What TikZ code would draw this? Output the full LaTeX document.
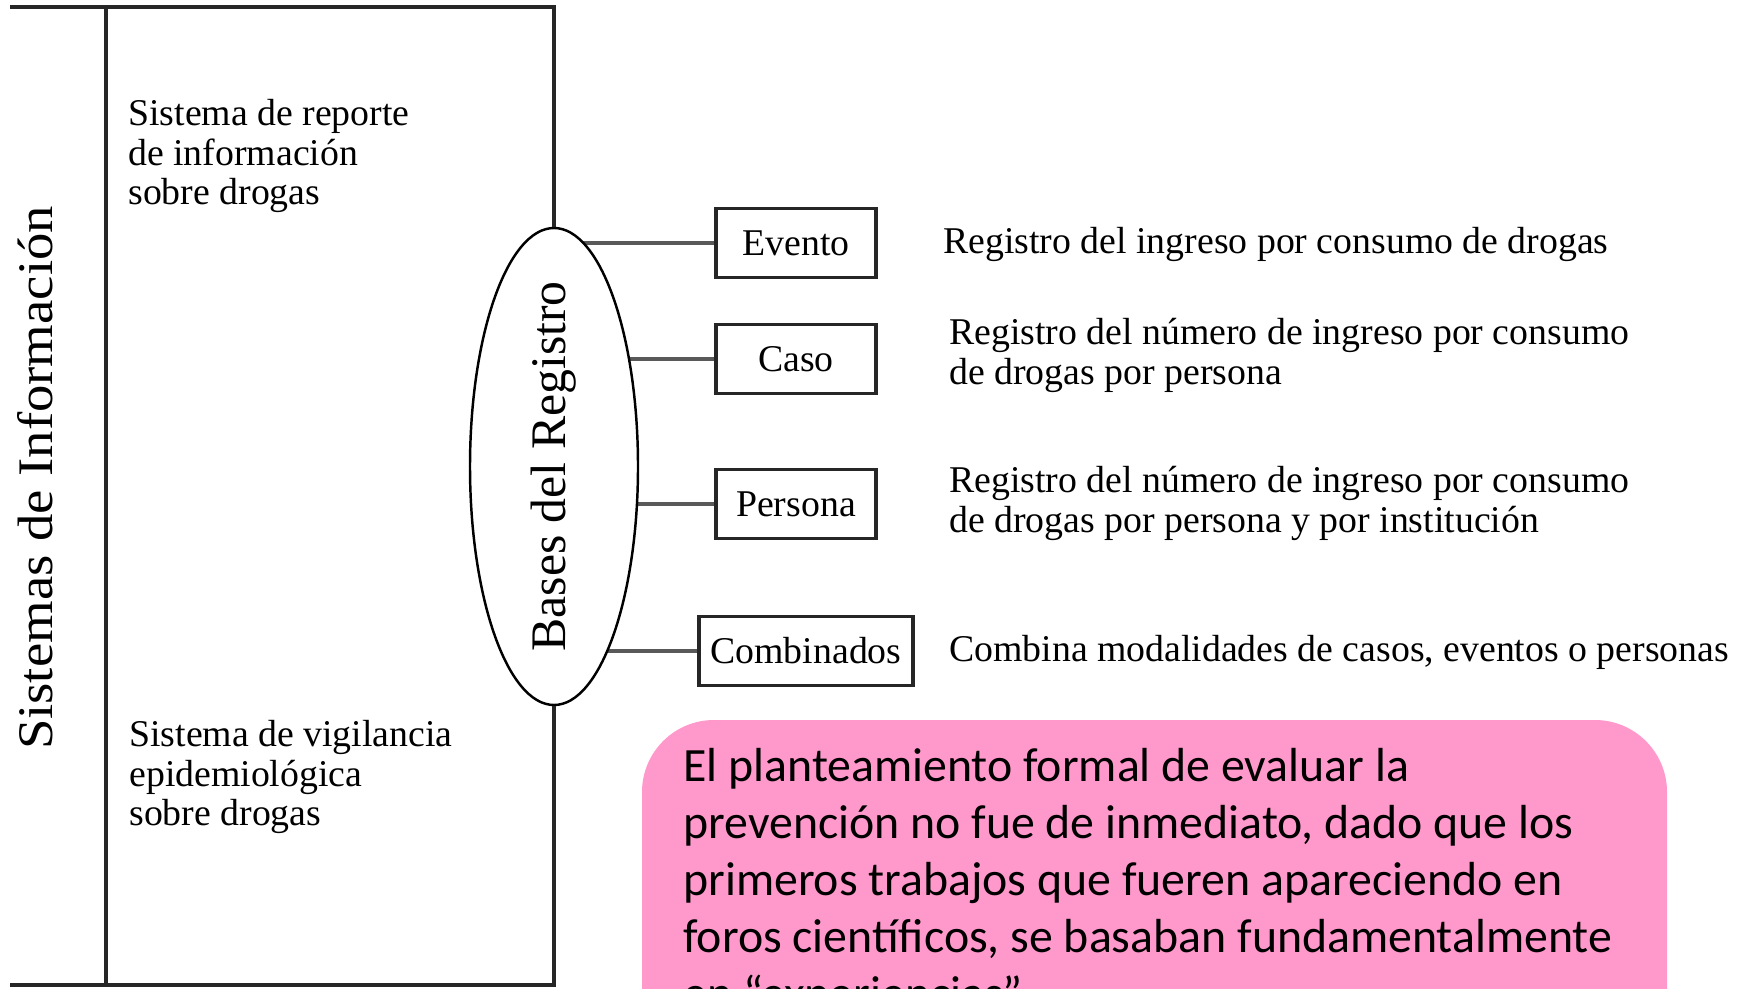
\documentclass[tikz,border=0pt]{standalone}
\usepackage{fontspec}
\setmainfont{Liberation Serif}
\newfontfamily\notafont{Carlito}
\usetikzlibrary{shapes.geometric,backgrounds}
\definecolor{notapink}{HTML}{FF99CC}

\begin{document}
\begin{tikzpicture}[
	frame/.style={black!85, line width=1.8pt},
	regbox/.style={draw=black!85, line width=1.8pt, minimum height=1.37cm, inner sep=0pt, font=\fontsize{21.5}{22.7}\selectfont},
	link/.style={black!65, line width=2pt},
	desc/.style={anchor=west, align=left, inner sep=0pt, font=\fontsize{21.5}{22.7}\selectfont}
]
	\useasboundingbox (0,0) rectangle (34.98,19.76);
	\clip (0,0) rectangle (34.98,19.76);

	% systems
	\node[rotate=90, inner sep=0pt, font=\fontsize{28.3}{30}\selectfont] (sistemas) at (0.70,10.2) {\scalebox{1.1}[1]{Sistemas de Información}};
	\node[ellipse, draw, line width=1.4pt, fill=white, rotate=90, minimum width=9.54cm, minimum height=3.36cm, inner sep=0pt, font=\fontsize{28.3}{30}\selectfont] (bases) at (11.08,10.43) {\makebox[0pt]{Bases del Registro}};
	\draw[frame] (0.2,19.62) -- (11.08,19.62) -- (bases.east);
	\draw[frame] (bases.west) -- (11.08,0.06) -- (0.2,0.06);
	\draw[frame] (2.12,19.62) -- (2.12,0.06);
	\node[desc] (reporte) at (2.56,16.64) {Sistema de reporte\\de información\\sobre drogas};
	\node[desc] (vigilancia) at (2.58,4.22) {Sistema de vigilancia\\epidemiológica\\sobre drogas};

	% registers
	\node[regbox, minimum width=3.2cm] (evento) at (15.92,14.90) {Evento};
	\node[regbox, minimum width=3.2cm] (caso) at (15.92,12.58) {Caso};
	\node[regbox, minimum width=3.2cm] (persona) at (15.92,9.68) {Persona};
	\node[regbox, minimum width=4.28cm] (combinados) at (16.12,6.74) {Combinados};
	\begin{scope}[on background layer]
		\draw[link] (evento.west) -- (evento.west -| bases.center);
		\draw[link] (caso.west) -- (caso.west -| bases.center);
		\draw[link] (persona.west) -- (persona.west -| bases.center);
		\draw[link] (combinados.west) -- (combinados.west -| bases.center);
	\end{scope}
	\node[desc] (devento) at (18.86,14.88) {Registro del ingreso por consumo de drogas};
	\node[desc] (dcaso) at (18.98,12.66) {Registro del número de ingreso por consumo\\de drogas por persona};
	\node[desc] (dpersona) at (18.98,9.69) {Registro del número de ingreso por consumo\\de drogas por persona y por institución};
	\node[desc] (dcombinados) at (18.98,6.72) {Combina modalidades de casos, eventos o personas};

	% note
	\fill[notapink, rounded corners=1.44cm] (12.84,-2) rectangle (33.34,5.36);
	\node[anchor=base west, align=left, inner sep=0pt, font=\notafont\fontsize{27.2}{32.3}\selectfont] (nota) at (13.66,-0.42) {El planteamiento formal de evaluar la\\prevención no fue de inmediato, dado que los\\primeros trabajos que fueren apareciendo en\\foros científicos, se basaban fundamentalmente\\en “experiencias”};
\end{tikzpicture}
\end{document}
